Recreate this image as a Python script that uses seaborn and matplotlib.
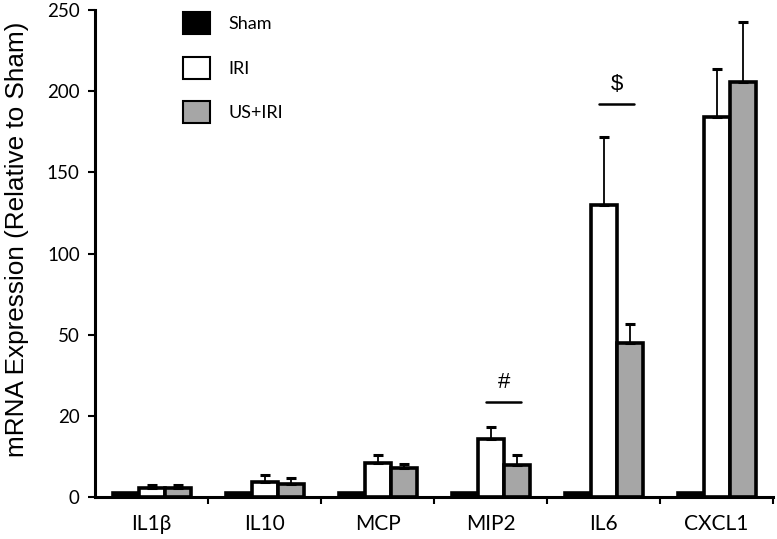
import numpy as np
import pandas as pd
import matplotlib
matplotlib.use("Agg")
import matplotlib.pyplot as plt
from matplotlib.patches import Patch
import seaborn as sns

# data (fold change vs sham, mean + upper SEM)
genes = ["IL1β", "IL10", "MCP", "MIP2", "IL6", "CXCL1"]
groups = ["Sham", "IRI", "US+IRI"]
sham = [1, 1, 1, 1, 1, 1]
iri = [2.2, 3.7, 8.4, 14.3, 130, 184]
us_iri = [2.2, 3.2, 7.1, 7.9, 47, 205.5]
iri_err = [0.7, 1.7, 1.9, 2.9, 41.6, 30]
us_iri_err = [0.7, 1.5, 1.0, 2.4, 9.5, 37]
y_ticks = [0, 20, 50, 100, 150, 200, 250]
# significance: (gene, symbol, level of the bar line)
sig_marks = [("MIP2", "#", 25), ("IL6", "$", 192)]

colors = {"Sham": "#000000", "IRI": "#ffffff", "US+IRI": "#a6a6a6"}

df = pd.DataFrame({
    "gene": genes * 3,
    "group": [g for g in groups for _ in genes],
    "val": sham + iri + us_iri,
    "err": [0] * len(genes) + iri_err + us_iri_err,
})

sns.set_theme(style="white")
plt.rcParams["font.family"] = ["Lato", "DejaVu Sans"]
plt.rcParams.update({"text.color": "black", "axes.labelcolor": "black",
                     "xtick.color": "black", "ytick.color": "black"})

fig, ax = plt.subplots(figsize=(7.77, 5.39), dpi=100)
fig.subplots_adjust(left=0.1223, right=0.995, bottom=0.078, top=0.981)

sns.barplot(data=df, x="gene", y="val", hue="group", order=genes, hue_order=groups,
            palette=colors, width=0.69, edgecolor="black", linewidth=2.6,
            legend=False, ax=ax)

# piecewise axis: the ticks are evenly spaced though the values are not
idx = np.arange(len(y_ticks), dtype=float)
fwd = lambda v: np.interp(v, y_ticks, idx)
inv = lambda v: np.interp(v, idx, y_ticks)
ax.set_yscale("function", functions=(fwd, inv))
ax.set_ylim(0, 250)
ax.set_yticks(y_ticks)
ax.set_yticklabels([str(t) for t in y_ticks])
ax.yaxis.set_minor_locator(matplotlib.ticker.NullLocator())

# upper error bars on top of each bar
xs, tops, errs = [], [], []
for p, (_, row) in zip(ax.patches, df.iterrows()):
    if row["err"] > 0:
        xs.append(p.get_x() + p.get_width() / 2)
        tops.append(row["val"])
        errs.append(row["err"])
ax.errorbar(xs, tops, yerr=[np.zeros(len(errs)), errs], fmt="none", ecolor="black",
            elinewidth=1.3, capsize=3.5, capthick=2.2, zorder=3)

for gene, sym, lvl in sig_marks:
    i = genes.index(gene)
    ax.plot([i - 0.04, i + 0.27], [lvl, lvl], color="black", lw=1.8)
    ax.annotate(sym, (i + 0.115, lvl), xytext=(0, 7), textcoords="offset points",
                ha="center", va="bottom", fontsize=16, family="Liberation Sans")

ax.set_xlim(-0.5, len(genes) - 0.5)
ax.set_xticks(np.arange(len(genes)))
ax.set_xticklabels(genes, fontsize=15)
ax.set_xticks(np.arange(len(genes)) + 0.5, minor=True)
ax.tick_params(axis="x", which="major", length=0, pad=12)
ax.tick_params(axis="x", which="minor", direction="out", length=5, width=1.5, bottom=True)
ax.tick_params(axis="y", direction="out", length=5, width=1.5, labelsize=13.5, left=True, pad=6)

for s in ["top", "right"]:
    ax.spines[s].set_visible(False)
for s in ["left", "bottom"]:
    ax.spines[s].set_color("black")
    ax.spines[s].set_linewidth(2.2)

ax.set_xlabel("")
ax.set_ylabel("mRNA Expression (Relative to Sham)", fontsize=18.8, family="Liberation Sans")
ax.yaxis.set_label_coords(-0.097, 0.53)

handles = [Patch(facecolor=colors[g], edgecolor="black", linewidth=1.5, label=g) for g in groups]
ax.legend(handles=handles, loc="upper left", bbox_to_anchor=(0.13, 0.996), frameon=False,
          fontsize=13, handlelength=1.5, handleheight=1.5, labelspacing=1.25,
          handletextpad=1.0, borderpad=0, borderaxespad=0)

fig.savefig("out.png", dpi=100)
